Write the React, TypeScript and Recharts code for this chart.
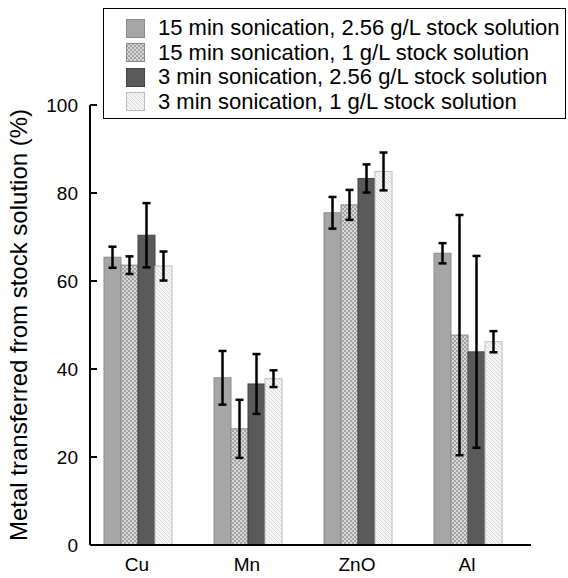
import React from 'react';
import { BarChart, Bar, XAxis, YAxis, Legend } from 'recharts';

const categories = ['Cu', 'Mn', 'ZnO', 'Al'];
const seriesNames = [
  '15 min sonication, 2.56 g/L stock solution',
  '15 min sonication, 1 g/L stock solution',
  '3 min sonication, 2.56 g/L stock solution',
  '3 min sonication, 1 g/L stock solution',
];
const min15High = [65.4, 38.0, 75.5, 66.3];
const min15HighErr = [2.4, 6.1, 3.6, 2.3];
const min15Low = [63.6, 26.4, 77.3, 47.7];
const min15LowErr = [2.0, 6.6, 3.4, 27.3];
const min3High = [70.4, 36.6, 83.3, 43.9];
const min3HighErr = [7.3, 6.8, 3.2, 21.8];
const min3Low = [63.4, 37.8, 84.9, 46.2];
const min3LowErr = [3.3, 1.9, 4.3, 2.4];
const yTicks = [0, 20, 40, 60, 80, 100];

const keys = ['a', 'b', 'c', 'd'];

const data = categories.map((name, i) => ({
  name,
  a: min15High[i],
  aErr: min15HighErr[i],
  b: min15Low[i],
  bErr: min15LowErr[i],
  c: min3High[i],
  cErr: min3HighErr[i],
  d: min3Low[i],
  dErr: min3LowErr[i],
}));

const FONT = '"Liberation Sans", Arial, Helvetica, sans-serif';

const fills = ['#a6a6a6', 'url(#patB)', '#5a5a5a', 'url(#patD)'];
const legendFills = ['#a6a6a6', 'url(#lpatB)', '#5a5a5a', 'url(#lpatD)'];
const strokes = ['#8a8a8a', '#8a8a8a', '#444444', '#bdbdbd'];

const Patterns = ({ prefix }: { prefix: string }) => (
  <defs>
    <pattern id={`${prefix}B`} width="4" height="4" patternUnits="userSpaceOnUse">
      <rect width="4" height="4" fill="#a2a2a2" />
      <rect x="0" y="0" width="2" height="2" fill="#d8d8d8" />
      <rect x="2" y="2" width="2" height="2" fill="#d8d8d8" />
    </pattern>
    <pattern id={`${prefix}D`} width="4" height="4" patternUnits="userSpaceOnUse">
      <rect width="4" height="4" fill="#f5f5f5" />
      <path d="M-1,-1 L5,5 M-1,3 L1,5 M3,-1 L5,1" stroke="#d8d8d8" strokeWidth="1" />
    </pattern>
  </defs>
);

const makeShape = (i: number) => (props: any) => {
  const { x, y, width, height, payload } = props;
  const v = payload[keys[i]];
  const err = payload[`${keys[i]}Err`];
  const pxPerUnit = v ? height / v : 0;
  const e = err * pxPerUnit;
  const cx = x + width / 2;
  const cap = 4;
  return (
    <g>
      <rect x={x} y={y} width={width} height={height} fill={fills[i]} stroke={strokes[i]} strokeWidth={1} />
      <g stroke="#000" strokeWidth={2.5}>
        <line x1={cx} x2={cx} y1={y - e} y2={y + e} />
        <line x1={cx - cap} x2={cx + cap} y1={y - e} y2={y - e} />
        <line x1={cx - cap} x2={cx + cap} y1={y + e} y2={y + e} />
      </g>
    </g>
  );
};

const renderLegend = () => (
  <div
    style={{
      width: 463,
      height: 111,
      boxSizing: 'border-box',
      border: '1.5px solid #000',
      background: '#fff',
      position: 'relative',
      fontFamily: FONT,
    }}
  >
    {seriesNames.map((n, i) => (
      <div
        key={n}
        style={{
          position: 'absolute',
          left: 22,
          top: 9 + i * 24.5,
          height: 20,
          display: 'flex',
          alignItems: 'center',
        }}
      >
        <svg width={19} height={19} style={{ display: 'block' }}>
          <Patterns prefix="lpat" />
          <rect x={0.5} y={0.5} width={18} height={18} fill={legendFills[i]} stroke={strokes[i]} strokeWidth={1} />
        </svg>
        <span style={{ marginLeft: 13, fontSize: 22, lineHeight: '20px', whiteSpace: 'nowrap', color: '#000' }}>{n}</span>
      </div>
    ))}
  </div>
);

export default function App() {
  return (
    <div style={{ position: 'absolute', left: 0, top: 0, width: 568, height: 578, background: '#fff', fontFamily: FONT }}>
      <BarChart
        width={568}
        height={578}
        data={data}
        margin={{ top: 105, right: 37, bottom: 0, left: 0 }}
        barCategoryGap="20%"
        barGap={0}
      >
        <Patterns prefix="pat" />
        <XAxis
          dataKey="name"
          height={33}
          padding={{ left: -8, right: 9 }}
          tickLine={false}
          tickSize={6}
          tickMargin={7}
          axisLine={{ stroke: '#000', strokeWidth: 2 }}
          tick={{ fill: '#000', fontSize: 19, fontFamily: FONT }}
        />
        <YAxis
          domain={[0, 100]}
          ticks={yTicks}
          interval={0}
          width={90}
          tickSize={-7}
          tickMargin={19}
          axisLine={{ stroke: '#000', strokeWidth: 2 }}
          tickLine={{ stroke: '#000', strokeWidth: 2 }}
          tick={{ fill: '#000', fontSize: 19, fontFamily: FONT }}
          label={{
            value: 'Metal transferred from stock solution (%)',
            angle: -90,
            position: 'insideLeft',
            offset: 18,
            style: { textAnchor: 'middle', fontSize: 24, fill: '#000', fontFamily: FONT },
          }}
        />
        <Legend
          content={renderLegend}
          layout="vertical"
          align="center"
          verticalAlign="middle"
          wrapperStyle={{ left: 103, top: 8, width: 463, height: 111 }}
        />
        {keys.map((k, i) => (
          <Bar
            key={k}
            dataKey={k}
            name={seriesNames[i]}
            fill={fills[i]}
            stroke={strokes[i]}
            strokeWidth={1}
            shape={makeShape(i)}
            isAnimationActive={false}
          />
        ))}
      </BarChart>
    </div>
  );
}
